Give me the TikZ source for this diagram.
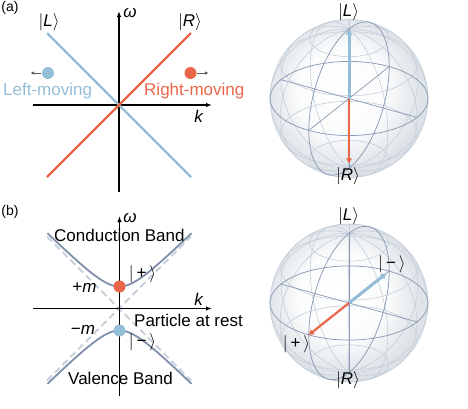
\documentclass[tikz,border=0pt]{standalone}
\usepackage{fontspec}
\setmainfont{Liberation Sans}
\usetikzlibrary{arrows.meta}
\definecolor{lblue}{RGB}{148,190,216}
\definecolor{lred}{RGB}{234,102,72}
\definecolor{hyp}{RGB}{127,143,170}
\definecolor{dashc}{RGB}{198,208,220}
\definecolor{sdark}{RGB}{140,156,182}
\definecolor{slight}{RGB}{198,207,218}
\definecolor{sedge}{RGB}{221,226,231}
\definecolor{arrgray}{RGB}{85,85,85}
\pgfdeclareradialshading{sphsh}{\pgfpoint{-3bp}{3bp}}{color(0bp)=(white); color(14bp)=(white!88!sedge); color(25bp)=(sedge); color(50bp)=(sedge)}
\tikzset{
  lbl/.style={font=\fontsize{17}{20}\selectfont, inner sep=0pt},
  plbl/.style={font=\fontsize{14}{16}\selectfont, inner sep=0pt},
  axisline/.style={line width=1.2pt, -{Latex[length=6pt,width=4.5pt]}},
  bluel/.style={lblue, line width=2.2pt},
  redl/.style={lred, line width=2.2pt},
  dotr/.style={circle, fill=lred, minimum size=12pt, inner sep=0pt},
  dotb/.style={circle, fill=lblue, minimum size=12pt, inner sep=0pt},
  movearr/.style={arrgray, line width=1pt, -{Latex[length=3.5pt,width=3.5pt]}},
  hypl/.style={hyp, line width=1.8pt},
  asym/.style={dashc, line width=1.8pt, dash pattern=on 7pt off 4pt},
  sgrid/.style={slight, line width=0.6pt},
  sgridd/.style={sdark, line width=0.75pt},
  barr/.style={lblue, line width=3pt, -{Triangle[length=5pt,width=6.5pt]}},
  rarr/.style={lred, line width=2.2pt, -{Triangle[length=5pt,width=5.5pt]}},
}
\newcommand{\drawbloch}[2]{%
  \begin{scope}[shift={(349pt,#1)}]
    \shade[shading=sphsh] (0pt,0pt) circle[radius=79pt];
    \draw[slight, line width=0.4pt] (0pt,0pt) circle[radius=79pt];
  \end{scope}
  \begin{scope}[shift={(349pt,#1)}, x={(68pt,-18.9pt)}, y={(40.2pt,31.9pt)}, z={(0pt,69.7pt)}]
    \foreach \lat in {-60,-30,30,60}{
      \draw[sgrid] plot[domain=0:360, samples=73, smooth] ({cos(\x)*cos(\lat)}, {sin(\x)*cos(\lat)}, {sin(\lat)});
    }
    \foreach \lon in {0,30,60,120,150}{
      \draw[sgrid] plot[domain=0:360, samples=73, smooth] ({cos(\lon)*cos(\x)}, {sin(\lon)*cos(\x)}, {sin(\x)});
    }
    \draw[sgridd] plot[domain=0:360, samples=73, smooth] ({cos(\x)}, {sin(\x)}, 0);
    \draw[sgridd] plot[domain=0:360, samples=73, smooth] (0, {cos(\x)}, {sin(\x)});
    \draw[sgridd] (-1,0,0) -- (1,0,0);
    \draw[sgridd] (0,-1,0) -- (0,1,0);
    \draw[sgridd] (0,0,-1) -- (0,0,1);
    #2
  \end{scope}
}
\begin{document}
\begin{tikzpicture}[x=1pt, y=-1pt]
\useasboundingbox (0,0) rectangle (468,408);

% ---------------- panel (a) ----------------
\node[plbl] (pa) at (10,8) {(a)};
\coordinate (akl) at (33,105);
\coordinate (akr) at (212,105);
\coordinate (awb) at (119,192);
\coordinate (awt) at (119,11);
\draw[axisline] (akl) -- (akr);
\draw[axisline] (awb) -- (awt);
\node[lbl] (aw) at (130,13) {\textit{ω}};
\node[lbl] (ak) at (199,116) {\textit{k}};
\coordinate (bl1) at (47,33);
\coordinate (bl2) at (191,177);
\coordinate (rl1) at (47,177);
\coordinate (rl2) at (191,33);
\draw[bluel] (bl1) -- (bl2);
\draw[redl] (rl1) -- (rl2);
\node[lbl] (aL) at (49,22) {$|$\textit{L}$\rangle$};
\node[lbl] (aR) at (190,22) {$|$\textit{R}$\rangle$};
\node[dotb] (dl) at (48,73) {};
\node[dotr] (dr) at (190.5,73) {};
\coordinate (dlend) at (30.5,73);
\coordinate (drend) at (208.5,73);
\draw[movearr] (dl.west) ++(-0.5,0) coordinate (dls) -- (dlend);
\draw[movearr] (dr.east) ++(0.5,0) coordinate (drs) -- (drend);
\node[lbl, anchor=base west, text=lblue] (lm) at (3,95) {Left-moving};
\node[lbl, anchor=base west, text=lred] (rm) at (144,95) {Right-moving};

% ---------------- panel (b) ----------------
\node[plbl] (pb) at (10,212) {(b)};
\coordinate (d1a) at (47,236.5);
\coordinate (d1b) at (191,380.5);
\coordinate (d2a) at (47,380.5);
\coordinate (d2b) at (191,236.5);
\draw[asym] (d1a) -- (d1b);
\draw[asym] (d2a) -- (d2b);
\draw[hypl] plot[domain=-72:72, samples=61, smooth] ({119.5+\x}, {308.5-sqrt(\x*\x+484)});
\draw[hypl] plot[domain=-72:72, samples=61, smooth] ({119.5+\x}, {308.5+sqrt(\x*\x+484)});
\node[lbl, anchor=base west] (cb) at (54,241.5) {Conduction Band};
\node[lbl, anchor=base west] (vb) at (68,384) {Valence Band};
\coordinate (bkl) at (33,308.5);
\coordinate (bkr) at (212,308.5);
\coordinate (bwb) at (119.5,396);
\coordinate (bwt) at (119.5,216);
\draw[axisline] (bkl) -- (bkr);
\draw[axisline] (bwb) -- (bwt);
\node[lbl] (bw) at (130,218) {\textit{ω}};
\node[lbl] (bk) at (199,299) {\textit{k}};
\node[dotr] (dp) at (119.5,286.5) {};
\node[dotb] (dm) at (119.5,330.5) {};
\node[lbl, anchor=base] (pm) at (84.5,292) {+\textit{m}};
\node[lbl, anchor=base] (mm) at (83,334.5) {−\textit{m}};
\node[lbl] (kp) at (142.5,274) {$|$\,+\,$\rangle$};
\node[lbl] (km) at (142.5,342) {$|$\,−\,$\rangle$};
\node[lbl, anchor=base west] (par) at (134,326.5) {Particle at rest};

% ---------------- spheres ----------------
\drawbloch{-98.5pt}{%
  \coordinate (oa) at (0,0,0);
  \coordinate (za) at (0,0,0.99);
  \coordinate (mza) at (0,0,-0.93);
  \draw[barr] (oa) -- (za);
  \draw[rarr] (oa) -- (mza);
}
\node[lbl] (sLa) at (348.5,12.5) {$|$\textit{L}$\rangle$};
\node[lbl] (sRa) at (348,176.5) {$|$\textit{R}$\rangle$};

\drawbloch{-303pt}{%
  \coordinate (ob) at (0,0,0);
  \coordinate (yb) at (0,0.92,0);
  \coordinate (myb) at (0,-1,0);
  \draw[barr] (ob) -- (yb);
  \draw[rarr] (ob) -- (myb);
}
\node[lbl] (sLb) at (348.5,216.5) {$|$\textit{L}$\rangle$};
\node[lbl] (sRb) at (348,380.5) {$|$\textit{R}$\rangle$};
\node[lbl] (sm) at (392,264.5) {$|$\,−\,$\rangle$};
\node[lbl] (sp) at (296.5,344) {$|$\,+\,$\rangle$};
\end{tikzpicture}
\end{document}
